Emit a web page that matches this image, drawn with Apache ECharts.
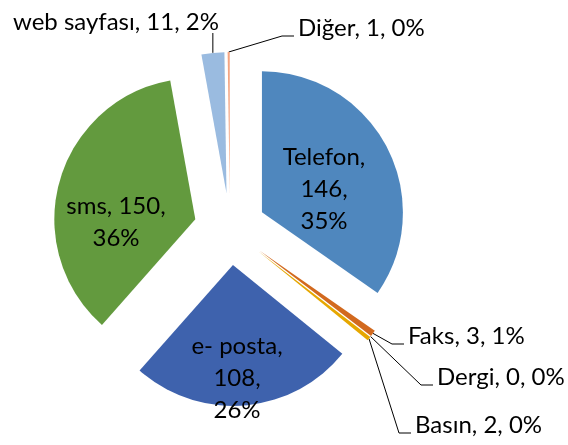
<!DOCTYPE html>
<html>
<head>
<meta charset="utf-8">
<script src="https://cdn.jsdelivr.net/npm/echarts@6/dist/echarts.min.js"></script>
<style>
html, body { margin: 0; padding: 0; background: #fff; }
#chart { width: 568px; height: 445px; }
</style>
</head>
<body>
<div id="chart"></div>
<script>
var names = ['Telefon', 'Faks', 'Dergi', 'Basın', 'e- posta', 'sms', 'web sayfası', 'Diğer'];
var values = [146, 3, 0, 2, 108, 150, 11, 1];
var percents = ['35%', '1%', '0%', '0%', '26%', '36%', '2%', '0%'];

var colors = ['#4f87be', '#d2691e', '#a5a5a5', '#e6a700', '#3e62ad', '#639a3e', '#9abbe0', '#f4a582'];

// pie geometry (every slice pulled out by OFF px)
var cx = 230, cy = 229, R = 141, OFF = 36;

// where each label sits: [x, y, align]
var labelSpots = [
    [324, 189, 'center'], [408, 336, 'left'], [437, 377, 'left'], [415, 425, 'left'],
    [237, 378, 'center'], [116, 222, 'center'], [13, 22, 'left'], [298, 28, 'left']
];
// line breaks like excel wrapped them
var seps = [
    ['\n', '\n'], [' ', ' '], [' ', ' '], [' ', ' '],
    ['\n', '\n'], [' ', '\n'], [' ', ' '], [' ', ' ']
];
var inside = [true, false, false, false, true, true, false, false];

var total = 0;
for (var i = 0; i < values.length; i++) total += values[i];

function midAngle(idx) {
    var cum = 0;
    for (var i = 0; i < idx; i++) cum += values[i];
    return (cum + values[idx] / 2) / total * Math.PI * 2;
}

function tip(idx) {
    var a = midAngle(idx);
    return [cx + (R + OFF) * Math.sin(a), cy - (R + OFF) * Math.cos(a)];
}

// one pie per slice, so each one can be pushed out on its own
function sliceSeries(k) {
    var a = midAngle(k);
    var data = [];
    for (var i = 0; i < names.length; i++) {
        var on = i === k;
        data.push({
            name: names[i],
            value: values[i],
            itemStyle: {color: on ? colors[i] : 'rgba(0,0,0,0)'},
            label: {show: on, position: inside[i] ? 'inside' : 'outside'},
            labelLine: {show: on && !inside[i]}
        });
    }
    return {
        type: 'pie',
        center: [cx + OFF * Math.sin(a), cy - OFF * Math.cos(a)],
        radius: R,
        startAngle: 90,
        clockwise: true,
        silent: true,
        avoidLabelOverlap: false,
        emphasis: {disabled: true},
        label: {
            color: '#000',
            fontFamily: 'Lato',
            fontSize: 24,
            lineHeight: 32,
            formatter: function (p) {
                var s = seps[p.dataIndex];
                return p.name + ',' + s[0] + p.value + ',' + s[1] + percents[p.dataIndex];
            }
        },
        labelLine: {
            lineStyle: {color: '#000', width: 1}
        },
        labelLayout: function (p) {
            var i = p.dataIndex;
            var spot = labelSpots[i];
            var res = {x: spot[0], y: spot[1], align: spot[2], verticalAlign: 'middle'};
            if (!inside[i]) {
                var t = tip(i);
                if (i === 6) {
                    res.labelLinePoints = [t, [t[0], 40], [t[0], 33]];
                } else {
                    var ly = spot[1] + 8;
                    res.labelLinePoints = [t, [spot[0] - 16, ly], [spot[0] - 4, ly]];
                }
            }
            return res;
        },
        data: data
    };
}

var series = [];
for (var k = 0; k < names.length; k++) series.push(sliceSeries(k));

var myChart = echarts.init(document.getElementById('chart'));
myChart.setOption({
    animation: false,
    series: series
});
</script>
</body>
</html>
